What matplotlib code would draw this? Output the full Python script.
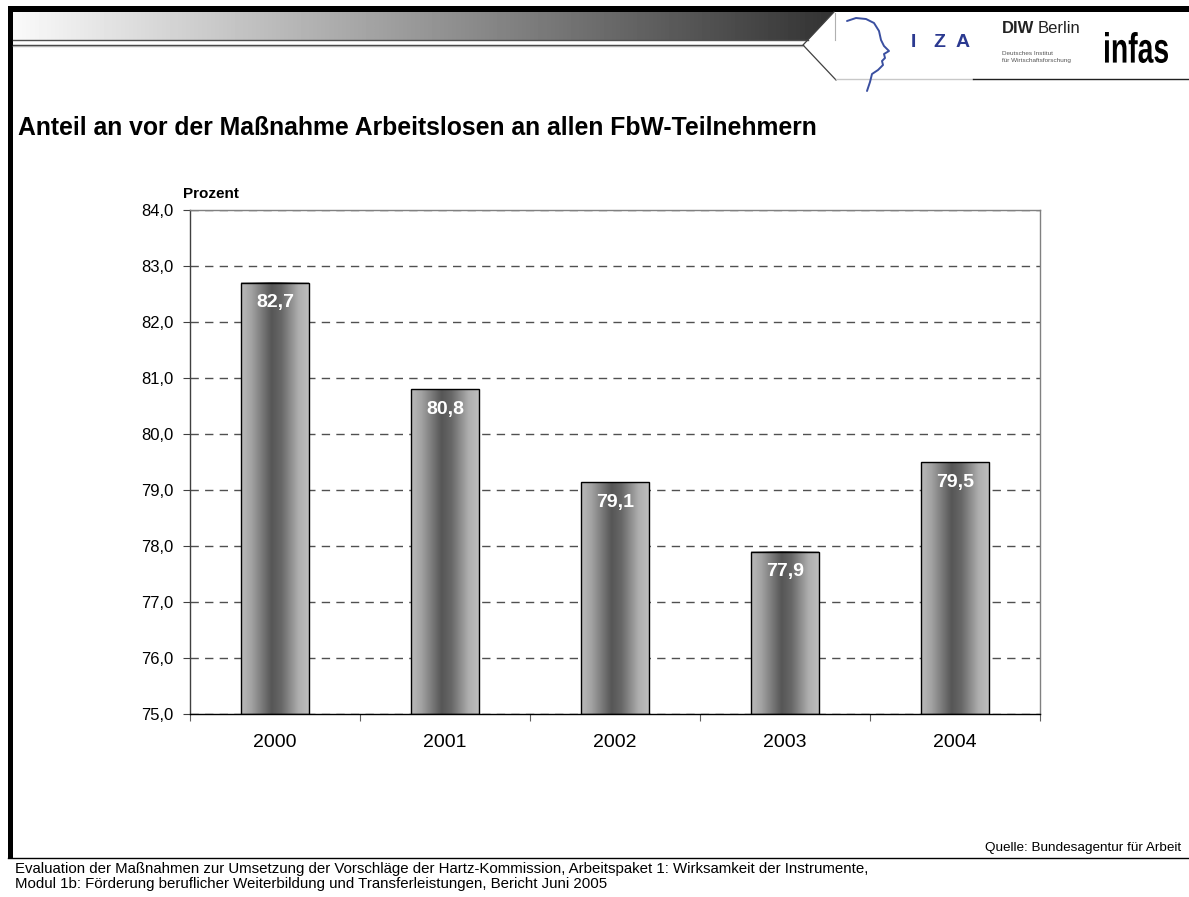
import numpy as np
import matplotlib
matplotlib.use('Agg')
import matplotlib.pyplot as plt
import matplotlib.ticker as mticker
from matplotlib.colors import LinearSegmentedColormap
from matplotlib.patches import Rectangle, Polygon, PathPatch
from matplotlib.textpath import TextPath
from matplotlib.font_manager import FontProperties
from matplotlib.transforms import Affine2D

plt.rcParams['font.family'] = ['Liberation Sans', 'DejaVu Sans']

# data
years = ['2000', '2001', '2002', '2003', '2004']
anteil = [82.7, 80.8, 79.14, 77.9, 79.5]
yticks = [75, 76, 77, 78, 79, 80, 81, 82, 83, 84]

title = 'Anteil an vor der Maßnahme Arbeitslosen an allen FbW-Teilnehmern'
quelle = 'Quelle: Bundesagentur für Arbeit'
footer1 = ('Evaluation der Maßnahmen zur Umsetzung der Vorschläge der Hartz-Kommission, '
           'Arbeitspaket 1: Wirksamkeit der Instrumente,')
footer2 = 'Modul 1b: Förderung beruflicher Weiterbildung und Transferleistungen, Bericht Juni 2005'

W, H = 1189, 897
fig = plt.figure(figsize=(W/100, H/100), dpi=100)

#############
#### page frame (pixel coordinates)
#------------
bg = fig.add_axes([0, 0, 1, 1])
bg.axis('off')

# black frame top + left, footer rule
bg.add_patch(Rectangle((8, 6), W-8, 6, color='black', lw=0))
bg.add_patch(Rectangle((8, 6), 5, 852, color='black', lw=0))
bg.plot([8, W], [858.5, 858.5], color='black', lw=1)

# header gradient, cut by a diagonal
grad = np.linspace(0.98, 0.2, 256).reshape(1, -1)
im = bg.imshow(grad, cmap='gray', vmin=0, vmax=1, extent=[13, 834, 40, 12],
               aspect='auto', interpolation='bilinear')
clip = Polygon([(13, 12), (834, 12), (808, 40), (13, 40)], closed=True,
               transform=bg.transData, facecolor='none', edgecolor='none')
bg.add_patch(clip)
im.set_clip_path(clip)

bg.plot([13, 808], [40.5, 40.5], color='#505050', lw=1)
bg.plot([13, 803], [44.8, 44.8], color='#303030', lw=1)
bg.plot([13, 802], [46.5, 46.5], color='#b0b0b0', lw=1)
bg.plot([834, 803, 836], [12, 45, 80], color='#404040', lw=0.9)
bg.plot([835, 835], [13, 40], color='#b0b0b0', lw=0.8)
bg.plot([836, 973], [79.5, 79.5], color='#c8c8c8', lw=1)
bg.plot([973, W], [79.5, 79.5], color='#202020', lw=1)

# logos
head_x = [847, 856, 866, 874, 879, 881, 884, 889, 884, 885, 882, 883, 878, 872, 870, 867]
head_y = [21, 18, 19, 23, 31, 40, 46, 51, 54, 58, 61, 65, 70, 74, 82, 91]
bg.plot(head_x, head_y, color='#3a4fa0', lw=1.4, solid_capstyle='round')
for ch, xc in zip(['I', 'Z', 'A'], [913, 939, 963]):
    bg.text(xc, 47, ch, ha='center', va='baseline', fontsize=14,
            fontweight='bold', color='#2b3990')
bg.text(1002, 33, 'DIW', ha='left', va='baseline', fontsize=12,
        fontweight='bold', color='#222222')
bg.text(1038, 33, 'Berlin', ha='left', va='baseline', fontsize=12, color='#222222')
bg.text(1002, 55, 'Deutsches Institut', ha='left', va='baseline', fontsize=4.6, color='#555555')
bg.text(1002, 62, 'für Wirtschaftsforschung', ha='left', va='baseline', fontsize=4.6, color='#555555')

tp = TextPath((0, 0), 'infas', size=40,
              prop=FontProperties(family='Liberation Sans', weight='bold'))
bb = tp.get_extents()
tr = Affine2D().translate(-bb.x0, -bb.y0).scale(63/bb.width, -31/bb.height).translate(1105, 63)
bg.add_patch(PathPatch(tr.transform_path(tp), facecolor='black', edgecolor='none'))

# texts
bg.text(18, 135, title, ha='left', va='baseline', fontsize=17.8, fontweight='bold')
bg.text(183, 198, 'Prozent', ha='left', va='baseline', fontsize=11, fontweight='bold')
bg.text(1181, 851, quelle, ha='right', va='baseline', fontsize=9.7)
bg.text(15, 873, footer1, ha='left', va='baseline', fontsize=10.8)
bg.text(15, 888, footer2, ha='left', va='baseline', fontsize=10.8)

bg.set_xlim(0, W)
bg.set_ylim(H, 0)

#############
#### bar chart
#------------
ax = fig.add_axes([190/W, 1-714/H, 850/W, 504/H])
ax.patch.set_alpha(0)

cyl = LinearSegmentedColormap.from_list(
    'cyl', [(0, '#bababa'), (0.15, '#a3a3a3'), (0.45, '#565656'),
            (0.6, '#686868'), (0.85, '#aeaeae'), (1, '#bebebe')])
xpos = np.arange(len(years)) + 0.5
bw = 0.4
for xi, v in zip(xpos, anteil):
    ax.imshow(np.linspace(0, 1, 200).reshape(1, -1), cmap=cyl,
              extent=[xi-bw/2, xi+bw/2, 75, v], aspect='auto', zorder=2,
              interpolation='bilinear')
    ax.add_patch(Rectangle((xi-bw/2, 75), bw, v-75, fill=False,
                           edgecolor='black', lw=1, zorder=3))
    ax.annotate(f'{v:.1f}'.replace('.', ','), (xi, v), xytext=(0, -14.5),
                textcoords='offset points', ha='center', va='center',
                color='white', fontsize=14, fontweight='bold', zorder=4)

ax.set_xlim(0, len(years))
ax.set_ylim(75, 84)
ax.set_yticks(yticks)
ax.yaxis.set_major_formatter(mticker.FuncFormatter(lambda v, p: f'{v:.1f}'.replace('.', ',')))
ax.grid(axis='y', color='#505050', lw=1, ls=(0, (6, 4.5)))
ax.set_axisbelow(True)

ax.set_xticks(range(len(years)+1))
ax.set_xticklabels([])
ax.set_xticks(xpos, minor=True)
ax.set_xticklabels(years, minor=True)
ax.tick_params(axis='x', which='major', length=5, color='#606060', direction='out')
ax.tick_params(axis='x', which='minor', length=0, pad=14.5, labelsize=14)
ax.tick_params(axis='y', length=5, color='#404040', pad=7, labelsize=12)

ax.spines['left'].set_color('#404040')
ax.spines['bottom'].set_color('black')
ax.spines['top'].set_color('#808080')
ax.spines['right'].set_color('#808080')
for s in ax.spines.values():
    s.set_linewidth(1)

fig.savefig('out.png', dpi=100)
